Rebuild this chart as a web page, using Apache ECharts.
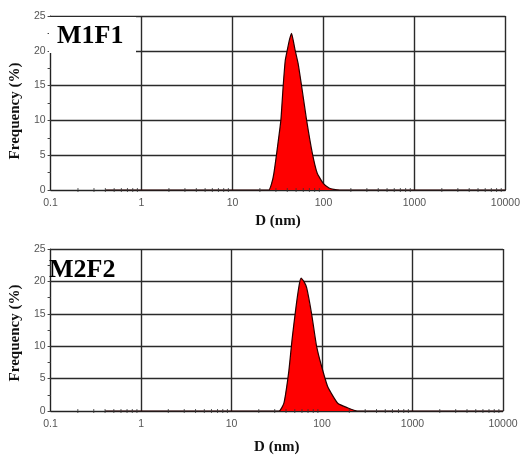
<!DOCTYPE html>
<html>
<head>
<meta charset="utf-8">
<script src="https://cdn.jsdelivr.net/npm/echarts@6/dist/echarts.min.js"></script>
<style>
html,body{margin:0;padding:0;background:#fff;}
#chart{width:523px;height:456px;}
</style>
</head>
<body>
<div id="chart"></div>
<script>
// ---- data ----
const panelTitles = ['M1F1', 'M2F2'];
const xTickLabels = ['0.1', '1', '10', '100', '1000', '10000'];
const yTickLabels = ['0', '5', '10', '15', '20', '25'];
const minorTickValues = [0.2,0.3,0.4,0.5,0.6,0.7,0.8,0.9, 2,3,4,5,6,7,8,9, 20,30,40,50,60,70,80,90, 200,300,400,500,600,700,800,900, 2000,3000,4000,5000,6000,7000,8000,9000];

const m1f1Size = [0.4, 25, 27, 28.5, 30.6, 34, 36, 38, 40.3, 42.5, 44.6, 46.5, 48.4, 52.6, 57.7, 65.3, 75.4, 85.4, 100, 115, 130, 150, 10000];
const m1f1Freq = [0,   0,  1,  2.4,  5.3, 10, 14.8, 18.6, 20.3, 21.7, 22.5, 21.5, 20.3, 18.2, 14.8, 10, 5.3, 2.4, 0.9, 0.3, 0.1, 0, 0];

const m2f2Size = [0.4, 33.5, 37.9, 43, 46.7, 51.5, 56, 58.8, 63, 67.7, 76.7, 86.8, 98, 116, 149, 191, 245, 10000];
const m2f2Freq = [0,   0,    1.2, 6.2, 11.1, 16, 19.5, 20.5, 20, 19.0, 15, 10.1, 7.1, 3.7, 1.2, 0.5, 0, 0];

// ---- chart ----
const chart = echarts.init(document.getElementById('chart'), null, {renderer: 'canvas'});
const labelColor = '#555';
const gridColor = '#2a2a2a';

function zip(a, b) { return a.map((v, i) => [v, b[i]]); }

function xAxis(gridIndex, gap) {
  return {
    type: 'log', logBase: 10, min: 0.1, max: 10000, gridIndex: gridIndex,
    name: 'D (nm)', nameLocation: 'middle', nameGap: gap,
    nameTextStyle: {fontFamily: 'Liberation Serif', fontWeight: 'bold', fontSize: 15, color: '#111'},
    axisLine: {show: true, lineStyle: {color: '#222', width: 1}},
    axisTick: {show: false},
    axisLabel: {color: labelColor, fontSize: 10.5, fontFamily: 'Liberation Sans', margin: 8,
      formatter: function (v) { const s = String(+v.toPrecision(6)); return xTickLabels.indexOf(s) >= 0 ? s : ''; }},
    splitLine: {show: true, lineStyle: {color: gridColor, width: 1.4}}
  };
}
function yAxis(gridIndex, gap, pad) {
  return {
    type: 'value', min: 0, max: 25, interval: 5, gridIndex: gridIndex,
    name: 'Frequency (%)', nameLocation: 'middle', nameGap: gap,
    nameTextStyle: {fontFamily: 'Liberation Serif', fontWeight: 'bold', fontSize: 15, color: '#111', padding: [0, pad, 0, 0]},
    axisLine: {show: true, lineStyle: {color: '#222', width: 1}},
    axisTick: {show: true, length: 3, lineStyle: {color: '#444'}},
    minorTick: {show: true, splitNumber: 2, length: 3, lineStyle: {color: '#444'}},
    axisLabel: {color: labelColor, fontSize: 10.5, fontFamily: 'Liberation Sans', margin: 5,
      formatter: function (v) { const s = String(v); return yTickLabels.indexOf(s) >= 0 ? s : ''; }},
    splitLine: {show: true, lineStyle: {color: gridColor, width: 1.4}}
  };
}
function distSeries(idx, sizes, freqs) {
  return {
    type: 'line', xAxisIndex: idx, yAxisIndex: idx, data: zip(sizes, freqs),
    showSymbol: false, smooth: 0.15, silent: true,
    lineStyle: {color: '#2a0000', width: 1.2},
    areaStyle: {color: '#ff0000', opacity: 1},
    z: 3
  };
}
function tickSeries(idx) {
  return {
    type: 'scatter', xAxisIndex: idx, yAxisIndex: idx, silent: true,
    data: minorTickValues.map(v => [v, 0]),
    symbol: 'rect', symbolSize: [1, 4], itemStyle: {color: '#333'}, z: 4
  };
}

const option = {
  animation: false,
  backgroundColor: '#fff',
  grid: [
    {left: 48, top: 16, width: 460, height: 174},
    {left: 46, top: 249, width: 457, height: 169}
  ],
  xAxis: [xAxis(0, 24), xAxis(1, 29)],
  yAxis: [yAxis(0, 16, 16), yAxis(1, 19, 6)],
  series: [
    tickSeries(0), tickSeries(1),
    distSeries(0, m1f1Size, m1f1Freq),
    distSeries(1, m2f2Size, m2f2Freq)
  ],
  graphic: [
    {type: 'rect', shape: {x: 49, y: 17, width: 87, height: 36}, style: {fill: '#fff'}, z: 100},
    {type: 'text', x: 57, y: 36, z: 101,
      style: {text: panelTitles[0], fontFamily: 'Liberation Serif', fontWeight: 'bold', fontSize: 26, fill: '#000', verticalAlign: 'middle'}},
    {type: 'text', x: 49, y: 270, z: 101,
      style: {text: panelTitles[1], fontFamily: 'Liberation Serif', fontWeight: 'bold', fontSize: 26, fill: '#000', verticalAlign: 'middle'}}
  ]
};
chart.setOption(option);
</script>
</body>
</html>
